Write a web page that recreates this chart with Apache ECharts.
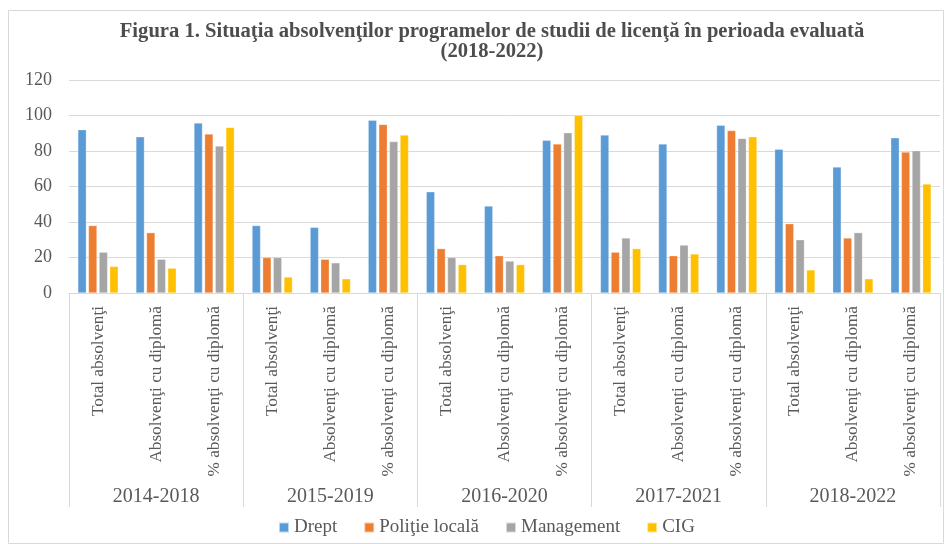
<!DOCTYPE html>
<html>
<head>
<meta charset="utf-8">
<script src="https://cdn.jsdelivr.net/npm/echarts@6/dist/echarts.min.js"></script>
<style>html,body{margin:0;padding:0;background:#fff}#c{width:945px;height:544px}</style>
</head>
<body>
<div id="c"></div>
<script>
var groups = ['2014-2018', '2015-2019', '2016-2020', '2017-2021', '2018-2022'];
var subCats = ['Total absolvenţi', 'Absolvenţi cu diplomă', '% absolvenţi cu diplomă'];
var seriesNames = ['Drept', 'Poliţie locală', 'Management', 'CIG'];
var drept = [92, 88, 95.8, 38, 37, 97.3, 57, 49, 86, 89, 84, 94.5, 81, 71, 87.4];
var politie = [38, 34, 89.6, 20, 19, 95, 25, 21, 84, 23, 21, 91.5, 39, 31, 79.4];
var management = [23, 19, 82.8, 20, 17, 85.3, 20, 18, 90.3, 31, 27, 87.1, 30, 34, 80.2];
var cig = [15, 14, 93.3, 9, 8, 89, 16, 16, 100, 25, 22, 88, 13, 8, 61.4];
var yTicks = [0, 20, 40, 60, 80, 100, 120];
var colors = ['#5B9BD5', '#ED7D31', '#A5A5A5', '#FFC000'];

var cats = [];
groups.forEach(function (g) { subCats.forEach(function (s) { cats.push(s); }); });
var values = [drept, politie, management, cig];

var font = '"Liberation Serif", "Times New Roman", serif';
var chart = echarts.init(document.getElementById('c'));
chart.setOption({
  animation: false,
  title: {
    text: 'Figura 1. Situaţia absolvenţilor programelor de studii de licenţă în perioada evaluată\n(2018-2022)',
    left: 487, top: 17, textAlign: 'center',
    textStyle: { fontFamily: font, fontSize: 20.6, fontWeight: 'bold', color: '#4d4d4d', lineHeight: 20 }
  },
  graphic: [{ type: 'rect', shape: { x: 8.5, y: 10.5, width: 935, height: 533 }, style: { fill: 'none', stroke: '#d9d9d9', lineWidth: 1 }, silent: true }],
  legend: {
    data: seriesNames, left: 273, bottom: 2,
    itemWidth: 10, itemHeight: 10, itemGap: 26, icon: 'rect',
    textStyle: { fontFamily: font, fontSize: 19, color: '#595959' }
  },
  grid: { left: 69, right: 5, top: 80, bottom: 251 },
  xAxis: [{
    type: 'category', data: cats, position: 'bottom',
    axisLine: { lineStyle: { color: '#d9d9d9' } }, axisTick: { show: false },
    axisLabel: { rotate: 90, interval: 0, margin: 13, fontFamily: font, fontSize: 17.2, color: '#595959' }
  }, {
    type: 'category', data: groups, position: 'bottom',
    axisLine: { show: true, lineStyle: { color: '#d9d9d9' } },
    axisTick: { show: true, length: 214, lineStyle: { color: '#d9d9d9' } },
    axisLabel: { interval: 0, margin: 194, fontFamily: font, fontSize: 20, color: '#595959' }
  }],
  yAxis: {
    type: 'value', min: yTicks[0], max: yTicks[yTicks.length - 1], interval: 20,
    axisLine: { show: false }, axisTick: { show: false },
    splitLine: { lineStyle: { color: '#d9d9d9' } },
    axisLabel: { margin: 17, fontFamily: font, fontSize: 18, color: '#595959' }
  },
  series: seriesNames.map(function (n, i) {
    return {
      name: n, type: 'bar', xAxisIndex: 0, data: values[i], barWidth: 8.5, barGap: '25%',
      itemStyle: { color: colors[i], borderColor: 'rgba(255,255,255,0.6)', borderWidth: 0.5 }
    };
  })
});
</script>
</body>
</html>
